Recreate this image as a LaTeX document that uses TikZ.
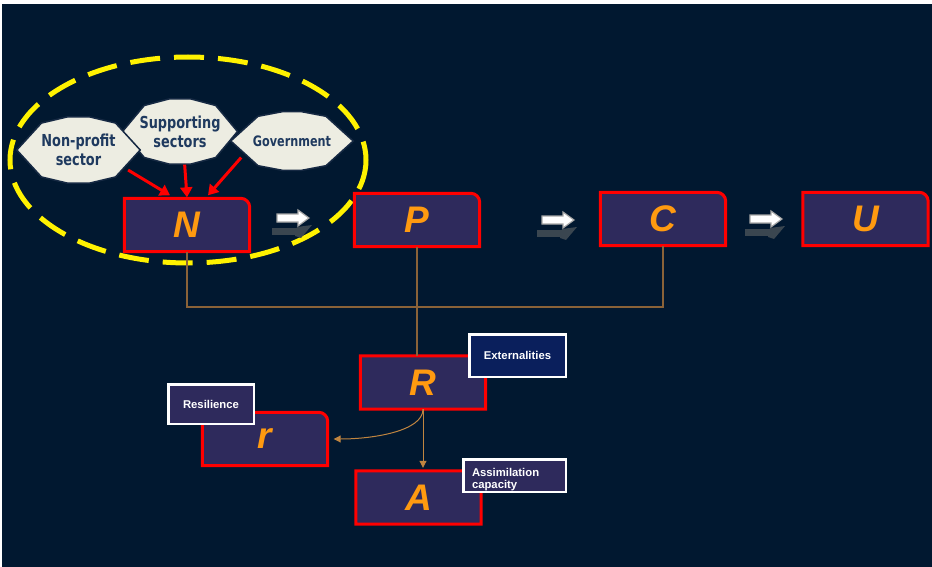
\documentclass[tikz,border=0pt]{standalone}
\usepackage{fontspec}
\setmainfont{Liberation Sans}
\newfontfamily\cloudfont[FakeStretch=0.78]{DejaVu Sans}
\usetikzlibrary{shapes.geometric,arrows.meta}

\definecolor{night}{HTML}{011830}
\definecolor{boxfill}{HTML}{2E2A5C}
\definecolor{navyfill}{HTML}{0A1F5C}
\definecolor{cloudfill}{HTML}{EDEDE2}
\definecolor{cloudtext}{HTML}{1F3A5F}
\definecolor{letter}{HTML}{FF9A10}
\definecolor{wire}{HTML}{8A6238}
\definecolor{wirehead}{HTML}{C08540}
\definecolor{shadowgrey}{HTML}{3A4650}

\pgfdeclarelayer{bg}
\pgfsetlayers{bg,main}

\tikzset{
  stage/.style={minimum width=125pt, minimum height=53pt, inner sep=0pt,
    text=letter, font=\fontsize{37}{40}\selectfont\bfseries\itshape},
  stageline/.style={draw=red, line width=3pt, fill=boxfill},
  cloud/.style={ellipse, inner sep=0pt, text=cloudtext, align=center},
  cloudline/.style={fill=cloudfill, draw=cloudtext!70!black, line width=1.5pt},
  tag/.style={draw=white, line width=2.5pt, fill=boxfill, text=white, inner sep=0pt,
    font=\fontsize{11.3}{12.5}\selectfont\bfseries},
  feed/.style={draw=red, line width=3pt, -{Triangle[length=10pt,width=12pt]}},
  link/.style={draw=wire, line width=1.4pt},
  linkarrow/.style={draw=wirehead, line width=1pt, -{Triangle[length=7pt,width=7pt]}},
}

\begin{document}
\begin{tikzpicture}[x=1pt,y=-1pt]
  \begin{pgfonlayer}{bg}
    \fill[white] (0,0) rectangle (932,567);
    \fill[night] (2,4) rectangle (932,567);
    \draw[yellow, line width=5pt, dash pattern=on 30pt off 14pt] (188,160) ellipse [x radius=178, y radius=103];
  \end{pgfonlayer}

  % sectors feeding N
  \node[cloud, minimum width=114pt, minimum height=66pt, font=\cloudfont\bfseries\fontsize{16.5}{19}\selectfont] (sup) at (180,131.5) {Supporting\\sectors};
  \node[cloud, minimum width=123pt, minimum height=67pt, font=\cloudfont\bfseries\fontsize{16.5}{19}\selectfont] (np) at (78.5,150) {Non-profit\\sector};
  \node[cloud, minimum width=122pt, minimum height=59pt, font=\cloudfont\bfseries\fontsize{14.4}{17}\selectfont] (gov) at (292,141) {Government};
  \begin{pgfonlayer}{bg}
    \foreach \c in {sup,np,gov}
      \draw[cloudline] (\c.0) -- (\c.36) -- (\c.72) -- (\c.108) -- (\c.144) -- (\c.180)
        -- (\c.216) -- (\c.252) -- (\c.288) -- (\c.324) -- cycle;
  \end{pgfonlayer}

  % main chain
  \node[stage] (nbox) at (187,225) {N};
  \node[stage] (pbox) at (417,220) {P};
  \node[stage] (cbox) at (663,219) {C};
  \node[stage] (ubox) at (865.5,219) {U};
  \node[stage] (rbox) at (423,382.5) {R};
  \node[stage] (rsbox) at (265,439) {r};
  \node[stage] (abox) at (418.5,497.5) {A};
  \begin{pgfonlayer}{bg}
    \foreach \b in {nbox,pbox,cbox,ubox,rbox,rsbox,abox}
      \draw[stageline] (\b.south west) -- (\b.north west) -- ([xshift=-9pt]\b.north east)
        arc[start angle=90, end angle=0, radius=9pt] -- (\b.south east) -- cycle;
  \end{pgfonlayer}

  \draw[feed] (np.-22) -- ([xshift=-17pt,yshift=3pt]nbox.north);
  \draw[feed] (sup.-82) -- ([yshift=1pt]nbox.north);
  \draw[feed] (gov.-162) -- ([xshift=21pt,yshift=3pt]nbox.north);

  % block arrows between the stages
  \foreach \x/\y in {277/210,542/212,750/211} {
    \begin{scope}[shift={(\x,\y)}]
      \fill[shadowgrey] (-5,18) rectangle (20,25);
      \fill[shadowgrey] (20,17) -- (35,15) -- (24,28) -- (18,26) -- cycle;
      \draw[fill=white, draw=gray!70, line width=1.2pt] (0,4) -- (21,4) -- (21,0) -- (32,8)
        -- (21,16) -- (21,12) -- (0,12) -- cycle;
    \end{scope}
  }

  \coordinate (bus) at (417,307);
  \draw[link] (nbox.south) |- (bus) -| (cbox.south);
  \draw[link] (pbox.south) -- (pbox.south |- rbox.north);
  \draw[linkarrow, shorten >=3pt] (rbox.south) -- (rbox.south |- abox.north);
  \draw[linkarrow, shorten >=6pt] (rbox.south) .. controls +(0,22) and +(45,0) .. (rsbox.east);

  \node[tag, fill=navyfill, minimum width=96.5pt, minimum height=42.5pt] (ext) at (517.5,355.5) {Externalities};
  \node[tag, minimum width=85.5pt, minimum height=39.5pt] (res) at (211,404) {Resilience};
  \node[tag, minimum width=102.5pt, minimum height=32.5pt, text width=85pt, text height=16pt, align=left] (asm) at (514.5,475.5) {Assimilation\\capacity};
\end{tikzpicture}
\end{document}
